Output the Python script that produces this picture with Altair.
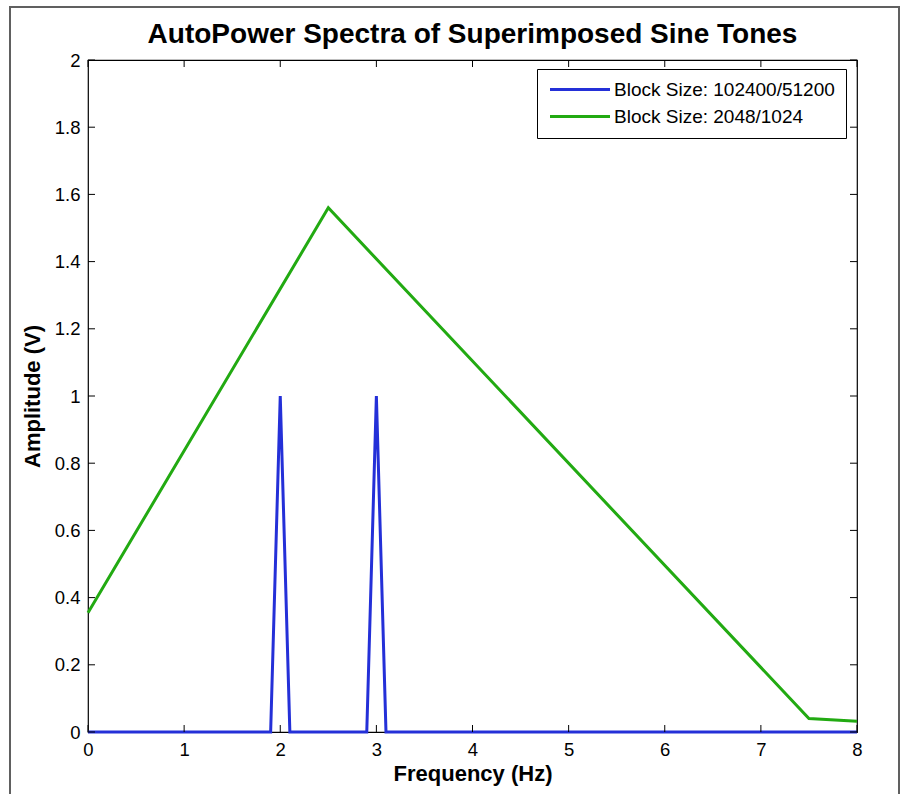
import altair as alt
import pandas as pd

# Data
title_text = "AutoPower Spectra of Superimposed Sine Tones"
blue_label = "Block Size: 102400/51200"
green_label = "Block Size: 2048/1024"
blue_freq = [0, 1.9, 2.0, 2.1, 2.9, 3.0, 3.1, 8]
blue_amp = [0, 0, 1.0, 0, 0, 1.0, 0, 0]
green_freq = [0, 2.5, 7.5, 8]
green_amp = [0.355, 1.56, 0.04, 0.032]
x_ticks = [0, 1, 2, 3, 4, 5, 6, 7, 8]
y_ticks = [0, 0.2, 0.4, 0.6, 0.8, 1.0, 1.2, 1.4, 1.6, 1.8, 2.0]

W, H = 769, 672
FONT = "Liberation Sans"
BLUE = "#2430d8"
GREEN = "#22aa12"

df = pd.concat([
    pd.DataFrame({"f": blue_freq, "a": blue_amp, "s": blue_label, "o": range(len(blue_freq))}),
    pd.DataFrame({"f": green_freq, "a": green_amp, "s": green_label, "o": range(len(green_freq))}),
])

xs = alt.Scale(domain=[0, 8], nice=False, zero=False)
ys = alt.Scale(domain=[0, 2], nice=False, zero=False)
x_axis = alt.Axis(values=x_ticks, format="~g", ticks=False, domain=False, grid=False,
                  labelPadding=23, labelBaseline="alphabetic", labelFlush=False,
                  titleBaseline="alphabetic", titleY=48)
y_axis = alt.Axis(values=y_ticks, format="~g", ticks=False, domain=False, grid=False,
                  labelPadding=8, labelFlush=False, titleBaseline="alphabetic", titleX=-49)
XT = "Frequency (Hz)"
YT = "Amplitude (V)"

lines = alt.Chart(df).mark_line(strokeWidth=3, clip=False).encode(
    x=alt.X("f:Q", scale=xs, title=XT, axis=x_axis),
    y=alt.Y("a:Q", scale=ys, title=YT, axis=y_axis),
    color=alt.Color("s:N", scale=alt.Scale(domain=[blue_label, green_label], range=[BLUE, GREEN]),
                    legend=alt.Legend(title=None, orient="none", legendX=449, legendY=9,
                                      symbolType="M-1,0H7", symbolSize=225, symbolStrokeWidth=3,
                                      labelFontSize=19, labelFont=FONT, labelColor="black",
                                      labelLimit=500,
                                      padding=11, rowPadding=7, labelOffset=47,
                                      strokeColor="black", fillColor="white", cornerRadius=0)),
    order="o:Q",
)

xt = pd.DataFrame({"f": x_ticks})
yt = pd.DataFrame({"a": y_ticks})
tick_b = alt.Chart(xt).mark_rule(color="black", strokeWidth=1).encode(
    x=alt.X("f:Q", scale=xs, title=XT, axis=x_axis), y=alt.value(H), y2=alt.value(H - 7))
tick_t = alt.Chart(xt).mark_rule(color="black", strokeWidth=1).encode(
    x=alt.X("f:Q", scale=xs, title=XT, axis=x_axis), y=alt.value(0), y2=alt.value(7))
tick_l = alt.Chart(yt).mark_rule(color="black", strokeWidth=1).encode(
    y=alt.Y("a:Q", scale=ys, title=YT, axis=y_axis), x=alt.value(0), x2=alt.value(7))
tick_r = alt.Chart(yt).mark_rule(color="black", strokeWidth=1).encode(
    y=alt.Y("a:Q", scale=ys, title=YT, axis=y_axis), x=alt.value(W), x2=alt.value(W - 7))

frame = alt.Chart(alt.Data(values=[{}])).mark_rect(
    fillOpacity=0, stroke="#606060", strokeWidth=2).encode(
    x=alt.value(-78), x2=alt.value(811), y=alt.value(-53), y2=alt.value(770))

title = alt.Chart(alt.Data(values=[{"t": title_text}])).mark_text(
    font=FONT, fontSize=28, fontWeight="bold", color="black",
    align="center", baseline="alphabetic").encode(
    text="t:N", x=alt.value(W / 2), y=alt.value(-17))

chart = alt.layer(lines, tick_b, tick_t, tick_l, tick_r, frame, title).properties(
    width=W, height=H,
    autosize=alt.AutoSizeParams(type="none"),
    padding={"left": 88, "top": 60, "right": 45, "bottom": 62},
    background="white",
).configure_view(stroke="black", strokeWidth=1.2).configure_axis(
    labelFont=FONT, labelFontSize=18.5, labelColor="black",
    titleFont=FONT, titleFontSize=22, titleFontWeight="bold", titleColor="black",
)

chart.save("out.html", embed_options={"renderer": "svg", "actions": False})
